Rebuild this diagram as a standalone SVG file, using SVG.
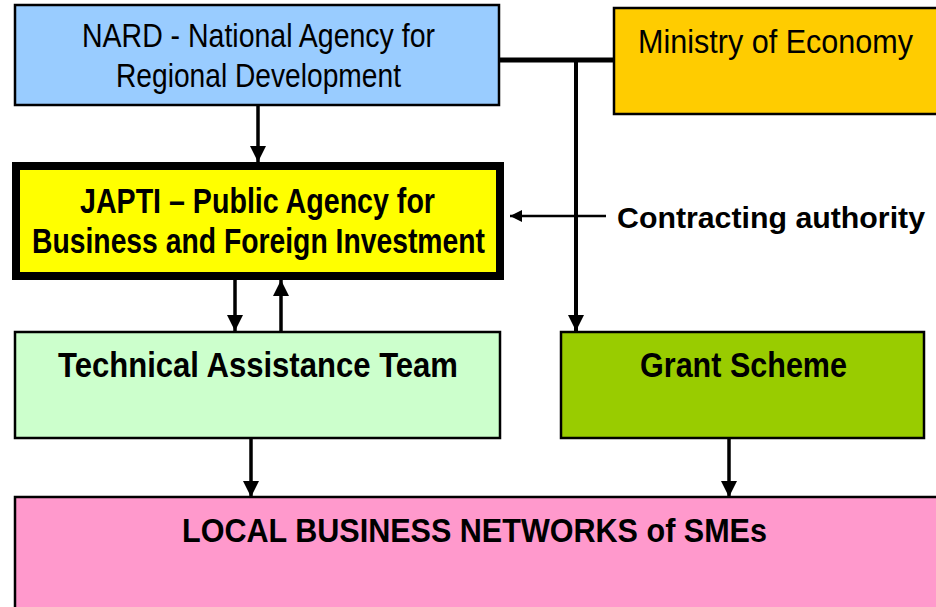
<svg xmlns="http://www.w3.org/2000/svg" width="936" height="607" viewBox="0 0 936 607">
  <style>
    .box { stroke: #000; stroke-width: 2.5; }
    .t { font-family: "Liberation Sans", Arial, sans-serif; fill: #000; text-anchor: middle; }
    .reg { font-size: 33px; }
    .bold { font-size: 35px; font-weight: bold; }
    .link { stroke: #000; fill: none; }
  </style>
  <defs>
    <marker id="head" markerUnits="userSpaceOnUse" viewBox="0 0 16 16" refX="16" refY="8" markerWidth="16" markerHeight="16" orient="auto">
      <path d="M0,0 L16,8 L0,16 z" fill="#000"/>
    </marker>
    <marker id="headSmall" markerUnits="userSpaceOnUse" viewBox="0 0 12 12" refX="12" refY="6" markerWidth="12" markerHeight="12" orient="auto">
      <path d="M0,0 L12,6 L0,12 z" fill="#000"/>
    </marker>
  </defs>

  <rect width="936" height="607" fill="#fff"/>

  <!-- connectors -->
  <g id="connectors">
    <line class="link" x1="499" y1="60" x2="615" y2="60" stroke-width="5"/>
    <line class="link" x1="576" y1="60" x2="576" y2="331" stroke-width="4" marker-end="url(#head)"/>
    <line class="link" x1="258" y1="106" x2="258" y2="162" stroke-width="3.5" marker-end="url(#head)"/>
    <line class="link" x1="606" y1="216" x2="510" y2="216" stroke-width="2.5" marker-end="url(#headSmall)"/>
    <line class="link" x1="235" y1="280" x2="235" y2="331" stroke-width="3.5" marker-end="url(#head)"/>
    <line class="link" x1="281" y1="331" x2="281" y2="280" stroke-width="3.5" marker-end="url(#head)"/>
    <line class="link" x1="251" y1="439" x2="251" y2="497" stroke-width="3.5" marker-end="url(#head)"/>
    <line class="link" x1="729" y1="439" x2="729" y2="497" stroke-width="3.5" marker-end="url(#head)"/>
  </g>

  <g id="nard">
    <rect class="box" x="15" y="5" width="484" height="100" fill="#99CCFF"/>
    <text class="t reg" x="258.5" y="47" textLength="353" lengthAdjust="spacingAndGlyphs">NARD - National Agency for</text>
    <text class="t reg" x="258.5" y="87" textLength="285" lengthAdjust="spacingAndGlyphs">Regional Development</text>
  </g>

  <g id="ministry">
    <rect class="box" x="614" y="8" width="326" height="106" fill="#FFCC00"/>
    <text class="t reg" x="775.5" y="53" textLength="275" lengthAdjust="spacingAndGlyphs">Ministry of Economy</text>
  </g>

  <g id="japti">
    <rect x="16" y="166" width="484" height="110" fill="#FFFF00" stroke="#000" stroke-width="8"/>
    <text class="t bold" x="257.5" y="213" textLength="355" lengthAdjust="spacingAndGlyphs">JAPTI – Public Agency for</text>
    <text class="t bold" x="258.5" y="253" textLength="453" lengthAdjust="spacingAndGlyphs">Business and Foreign Investment</text>
  </g>

  <g id="contracting-authority">
    <text class="t bold" x="771" y="228" textLength="308" lengthAdjust="spacingAndGlyphs" style="font-size:30px">Contracting authority</text>
  </g>

  <g id="technical-assistance">
    <rect class="box" x="15" y="332" width="485" height="106" fill="#CCFFCC"/>
    <text class="t bold" x="258" y="377" textLength="400" lengthAdjust="spacingAndGlyphs">Technical Assistance Team</text>
  </g>

  <g id="grant-scheme">
    <rect class="box" x="561" y="332" width="363" height="106" fill="#99CC00"/>
    <text class="t bold" x="743.5" y="377" textLength="207" lengthAdjust="spacingAndGlyphs">Grant Scheme</text>
  </g>

  <g id="local-networks">
    <rect class="box" x="15" y="497" width="925" height="120" fill="#FF99CC"/>
    <text class="t bold" x="474.5" y="542" textLength="585" lengthAdjust="spacingAndGlyphs" style="font-size:34px">LOCAL BUSINESS NETWORKS of SMEs</text>
  </g>
</svg>
